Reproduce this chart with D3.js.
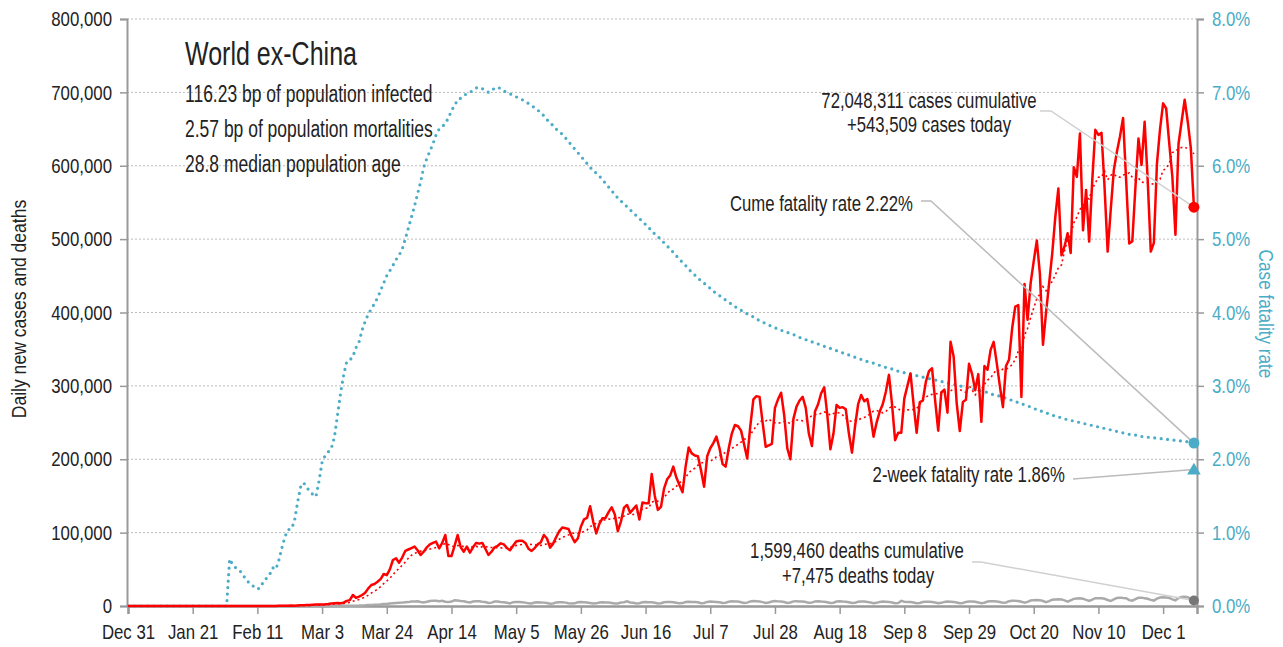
<!DOCTYPE html>
<html>
<head>
<meta charset="utf-8">
<script src="https://cdn.jsdelivr.net/npm/d3@7"></script>
<style>
  body { margin: 0; background: #fff; }
  svg text { font-family: "Liberation Sans", Arial, sans-serif; fill: #222; }
</style>
</head>
<body>
<svg width="1283" height="647"></svg>
<script>
// daily new cases, thousands, from 2019-12-31
var cases = [
  0,0,0,0,0,0,0,0,0,0,
  0,0,0,0,0,0,0,0,0,0,
  0,0.01,0.01,0.01,0.01,0.01,0.02,0.02,0.01,0.02,
  0.02,0.03,0.02,0.02,0.03,0.02,0.03,0.03,0.04,0.03,
  0.05,0.05,0.06,0.05,0.1,0.08,0.1,0.12,0.15,0.2,
  0.3,0.4,0.5,0.6,0.5,0.7,0.9,1.0,1.2,1.4,
  1.7,1.9,2.0,2.2,2.4,2.8,3.4,3.8,4.0,3.9,
  4.5,7,8,15,11,12.7,15,18,24,28.6,
  30,33,36.7,43.6,42,50,62.7,65,59,66,
  75,77,79,81,76,69.5,74,80,84,86,
  87.7,78.6,86,96.8,68,68,82,96.8,80,74,
  81,72.8,80,86,85,86,78,69.5,74,80,
  82,85.4,84,79,76,82,88,89,89,86,
  78,75,79,84,87,96.8,92,79.5,85,94,
  102,107,106,105,95,87,92,108,118,120,
  136,115,99,112,119.5,120,128,134.5,125,102,
  115,134,137.7,127,132,137,118,141,140,140,
  180,150,131,135,160,172.7,178,190,175,165,
  155,190,216,208,205,204,185,162.6,204,215,
  222,230.8,215,193.5,190,215,235,246.7,245,239,
  220,201,245,281.7,286,285,250,217,219,221,
  270,281.7,290.7,260,215,200,255,271.7,280,285,
  270,235,218,265,275,290,298,260,213.6,235,
  274,270,271,268,235,209,245,275,287.6,279,
  282,260,230.8,250,265,275,292,315,275,226,
  236,236,283,300,317,275,236,278,280,305.7,
  320,324,280,239,291,295,263.5,360,340,276,
  238.5,278,281,330,316,294,316,251,327,322,
  349,360,331,300,271,327,336,378.5,408,410,
  285,439,390,440,470,498,453,356,400,440,
  480,530,569,478,490,508,481,598,585,644,
  512,567,496.6,580,649,642,645,570,483,540,
  594,619,640,665,580,494,497,570,637,601,
  660,580,483,495,603,650,685,678,630,585,
  506,630,660,690,660,624,543.509
];

// daily new deaths, thousands
var deaths = [
  0,0,0,0,0,0,0,0,0,0,
  0,0,0,0,0,0,0,0,0,0,
  0,0,0,0,0,0,0,0,0,0,
  0,0,0,0,0,0,0,0,0,0,
  0,0,0,0,0,0,0,0,0,0,
  0,0.01,0.01,0.01,0.02,0.02,0.02,0.03,0.03,0.04,
  0.05,0.06,0.07,0.08,0.1,0.12,0.14,0.15,0.2,0.22,
  0.27,0.3,0.35,0.45,0.5,0.6,0.8,0.9,1.2,1.5,
  1.7,1.8,2.2,2.6,2.7,3.3,3.8,4.2,4.4,4.6,
  5.0,5.3,6.0,6.2,6.3,5.5,4.9,5.8,6.8,7.3,
  7.0,6.5,7.1,5.8,5.3,6.0,7.8,7.6,6.9,6.5,
  5.4,4.8,6.2,6.6,6.4,5.8,5.5,4.2,4.6,6.0,
  6.1,5.6,5.2,4.3,3.6,5.2,5.5,5.3,5.0,4.6,
  3.6,3.4,4.8,5.0,4.9,4.6,4.1,3.2,3.5,4.9,
  5.0,5.1,4.6,3.9,3.4,3.6,5.0,5.3,5.1,4.8,
  4.2,3.4,3.6,4.8,5.0,4.9,4.7,4.2,3.3,3.5,
  4.8,5.2,6.5,4.8,4.3,3.4,3.8,5.0,5.3,5.1,
  5.0,4.4,3.5,3.8,5.1,5.4,5.3,5.0,4.4,3.6,
  4.0,5.4,5.8,5.6,5.5,5.0,3.9,4.2,5.6,6.2,
  5.9,5.6,5.0,4.0,4.4,5.9,6.6,6.2,6.0,5.2,
  4.0,4.6,6.2,6.8,6.6,6.0,5.3,4.2,4.7,6.2,
  6.7,6.3,6.0,5.4,4.2,4.8,6.3,6.6,6.2,6.0,
  5.4,4.3,4.6,6.2,6.5,6.1,5.9,5.2,4.2,4.5,
  6.0,6.4,6.0,5.8,5.1,4.0,4.4,5.7,6.2,6.0,
  5.6,4.9,3.9,4.3,5.6,6.0,5.8,5.6,4.8,3.9,
  4.2,7.0,5.9,5.6,5.4,4.8,3.8,4.1,5.5,5.8,
  5.7,5.5,4.7,3.7,4.3,5.6,6.0,5.9,5.6,4.8,
  3.8,4.2,5.6,6.0,6.0,5.7,4.9,3.9,4.5,6.0,
  6.5,6.4,6.2,5.4,4.3,4.8,6.6,7.2,7.0,6.9,
  5.9,4.6,5.6,7.4,8.0,8.2,8.0,6.8,5.3,6.6,
  8.6,9.0,9.3,9.0,7.6,6.0,7.8,9.7,10.2,10.5,
  10.0,8.3,6.8,8.6,10.6,10.6,10.4,9.8,8.2,6.8,
  9.0,11.0,11.4,10.8,10.5,8.0,7.2,9.5,11.2,11.4,
  10.6,9.8,8.3,7.4,10.0,11.6,12.0,11.6,11.0,9.0,
  7.8,10.8,12.3,12.6,12.0,9.5,7.475
];

// cumulative case fatality rate, percent
var cfr = [
  0,0,0,0,0,0,0,0,0,0,
  0,0,0,0,0,0,0,0,0,0,
  0,0,0,0,0,0,0,0,0,0,
  0,0,0,0.64,0.56,0.52,0.49,0.45,0.38,0.33,
  0.29,0.26,0.23,0.25,0.34,0.38,0.43,0.52,0.5,0.63,
  0.8,0.95,1.04,1.05,1.15,1.4,1.62,1.68,1.62,1.56,
  1.52,1.49,1.7,1.96,2.05,2.1,2.15,2.3,2.6,2.9,
  3.15,3.33,3.35,3.4,3.52,3.6,3.76,3.88,3.98,4.05,
  4.12,4.2,4.3,4.4,4.5,4.57,4.64,4.72,4.78,4.86,
  5.0,5.15,5.3,5.45,5.62,5.78,5.98,6.1,6.2,6.3,
  6.42,6.5,6.53,6.58,6.65,6.75,6.82,6.9,6.92,6.96,
  6.98,7.0,7.03,7.06,7.07,7.05,7.03,7.0,7.02,7.06,
  7.07,7.05,7.02,7.0,6.98,6.96,6.94,6.92,6.9,6.87,
  6.85,6.82,6.79,6.76,6.72,6.68,6.63,6.58,6.55,6.5,
  6.46,6.43,6.38,6.33,6.28,6.23,6.18,6.13,6.08,6.03,
  5.98,5.93,5.9,5.86,5.81,5.76,5.71,5.66,5.61,5.56,
  5.52,5.48,5.44,5.4,5.36,5.32,5.28,5.24,5.2,5.16,
  5.11,5.07,5.03,5.0,4.95,4.91,4.86,4.82,4.77,4.73,
  4.68,4.64,4.59,4.55,4.51,4.47,4.43,4.4,4.36,4.33,
  4.29,4.26,4.23,4.2,4.17,4.14,4.11,4.08,4.06,4.03,
  4.01,3.98,3.96,3.94,3.91,3.89,3.87,3.85,3.83,3.81,
  3.79,3.78,3.76,3.74,3.73,3.71,3.7,3.68,3.66,3.65,
  3.63,3.62,3.6,3.59,3.57,3.56,3.54,3.53,3.51,3.5,
  3.48,3.47,3.45,3.44,3.42,3.41,3.39,3.38,3.36,3.35,
  3.33,3.32,3.31,3.29,3.28,3.27,3.25,3.24,3.23,3.21,
  3.2,3.19,3.18,3.17,3.16,3.15,3.14,3.13,3.12,3.11,
  3.1,3.09,3.08,3.07,3.06,3.05,3.04,3.03,3.02,3.01,
  3.0,2.99,2.98,2.97,2.96,2.95,2.94,2.93,2.92,2.91,
  2.89,2.88,2.87,2.86,2.85,2.83,2.82,2.8,2.79,2.77,
  2.76,2.74,2.73,2.71,2.69,2.68,2.66,2.65,2.63,2.62,
  2.6,2.59,2.58,2.56,2.55,2.54,2.53,2.52,2.51,2.5,
  2.49,2.48,2.47,2.46,2.45,2.44,2.43,2.42,2.41,2.4,
  2.39,2.38,2.37,2.36,2.35,2.34,2.34,2.33,2.32,2.31,
  2.31,2.3,2.3,2.29,2.29,2.28,2.28,2.27,2.27,2.26,
  2.26,2.25,2.25,2.24,2.24,2.23,2.22
];

var twoWeekCfr = 1.86;
var leftTicks = [0, 100, 200, 300, 400, 500, 600, 700, 800];
var rightTicks = [0, 1, 2, 3, 4, 5, 6, 7, 8];
var titleText = "World ex-China";
var statLines = ["116.23 bp of population infected", "2.57 bp of population mortalities", "28.8 median population age"];

var RED = "#ff0000", BLUE = "#4aacc6", GREY = "#aaaaaa", AXIS = "#999";

var svg = d3.select("svg");
var start = new Date(2019, 11, 31);
var days = cases.map(function(d, i) { return d3.timeDay.offset(start, i); });

// no condensed face installed, so squeeze glyphs horizontally
function squeeze(sel, f) {
  sel.each(function() {
    var w = this.getComputedTextLength();
    d3.select(this).attr("textLength", w * f).attr("lengthAdjust", "spacingAndGlyphs");
  });
}

var x = d3.scaleTime()
  .domain([start, d3.timeDay.offset(start, 347.6)])
  .range([128, 1197]);
var y = d3.scaleLinear().domain([0, 800]).range([606, 19]);
var yR = d3.scaleLinear().domain([0, 8]).range([606, 19]);

// gridlines
svg.append("g")
  .selectAll("line")
  .data(leftTicks.slice(1))
  .enter().append("line")
  .attr("x1", 127).attr("x2", 1197)
  .attr("y1", function(d) { return y(d); })
  .attr("y2", function(d) { return y(d); })
  .attr("stroke", "#bbb")
  .attr("stroke-width", 1)
  .attr("stroke-dasharray", "2,2");

// left axis
var left = svg.append("g").attr("transform", "translate(127,0)")
  .call(d3.axisLeft(y).tickValues(leftTicks).tickSize(7).tickPadding(8)
    .tickFormat(function(d) { return d3.format(",")(d * 1000); }));
left.select(".domain").attr("stroke", AXIS).attr("stroke-width", 2);
left.selectAll(".tick line").attr("stroke", AXIS).attr("stroke-width", 1.5);
left.selectAll("text").style("font-size", "21px").attr("fill", "#222").call(squeeze, 0.8);

// right axis
var right = svg.append("g").attr("transform", "translate(1197,0)")
  .call(d3.axisRight(yR).tickValues(rightTicks).tickSize(7).tickPadding(8)
    .tickFormat(function(d) { return d.toFixed(1) + "%"; }));
right.select(".domain").attr("stroke", AXIS).attr("stroke-width", 2);
right.selectAll(".tick line").attr("stroke", AXIS).attr("stroke-width", 1.5);
right.selectAll("text").style("font-size", "21px").style("fill", BLUE).call(squeeze, 0.8);

// bottom axis
var tickDates = d3.range(0, 337, 21).map(function(i) { return d3.timeDay.offset(start, i); });
var bottom = svg.append("g").attr("transform", "translate(0,606)")
  .call(d3.axisBottom(x).tickValues(tickDates).tickSize(8).tickPadding(10)
    .tickFormat(d3.timeFormat("%b %-d")));
bottom.select(".domain").attr("stroke", AXIS).attr("stroke-width", 2.5);
bottom.selectAll(".tick line").attr("stroke", AXIS).attr("stroke-width", 1.5);
bottom.selectAll("text").style("font-size", "21px").attr("fill", "#222").call(squeeze, 0.8);

// axis titles
svg.append("text")
  .attr("transform", "translate(26,309) rotate(-90)")
  .attr("text-anchor", "middle")
  .style("font-size", "19.5px")
  .text("Daily new cases and deaths")
  .call(squeeze, 0.9);
svg.append("text")
  .attr("transform", "translate(1259,314) rotate(90)")
  .attr("text-anchor", "middle")
  .style("font-size", "19.5px")
  .style("fill", BLUE)
  .text("Case fatality rate")
  .call(squeeze, 0.88);

// series
var avg = cases.map(function(d, i) { return d3.mean(cases.slice(Math.max(0, i - 6), i + 1)); });

var line = d3.line()
  .x(function(d, i) { return x(days[i]); })
  .y(function(d) { return y(d); });
var lineR = d3.line()
  .x(function(d, i) { return x(days[i]); })
  .y(function(d) { return yR(d); });

svg.append("path").datum(cfr)
  .attr("d", lineR)
  .attr("fill", "none")
  .attr("stroke", BLUE)
  .attr("stroke-width", 3.2)
  .attr("stroke-linecap", "round")
  .attr("stroke-dasharray", "0,6.5");

svg.append("path").datum(deaths)
  .attr("d", line)
  .attr("fill", "none")
  .attr("stroke", GREY)
  .attr("stroke-width", 2.5);

svg.append("path").datum(cases)
  .attr("d", line)
  .attr("fill", "none")
  .attr("stroke", RED)
  .attr("stroke-width", 2.5)
  .attr("stroke-linejoin", "round");

svg.append("path").datum(avg)
  .attr("d", line)
  .attr("fill", "none")
  .attr("stroke", RED)
  .attr("stroke-width", 1.6)
  .attr("stroke-dasharray", "2,3");

var last = cases.length - 1;
var xe = x(days[last]);

// leader lines
function leader(pts, col) {
  svg.append("polyline")
    .attr("points", pts.map(function(p) { return p.join(","); }).join(" "))
    .attr("fill", "none")
    .attr("stroke", col)
    .attr("stroke-width", 1.5);
}
leader([[1040, 111], [1051, 111], [xe, y(cases[last])]], "#d0d0d0");
leader([[921, 201], [931, 201], [xe, yR(cfr[last])]], "#bbbbbb");
leader([[1073, 479], [xe, yR(twoWeekCfr)]], "#bbbbbb");
leader([[972, 562], [981, 562], [xe, y(deaths[last])]], "#d0d0d0");

// end markers
svg.append("circle").attr("cx", xe).attr("cy", y(cases[last])).attr("r", 5.5).attr("fill", RED);
svg.append("circle").attr("cx", xe).attr("cy", yR(cfr[last])).attr("r", 5.5).attr("fill", BLUE);
svg.append("circle").attr("cx", xe).attr("cy", y(deaths[last])).attr("r", 5).attr("fill", "#777");
svg.append("path")
  .attr("d", d3.symbol().type(d3.symbolTriangle).size(80))
  .attr("transform", "translate(" + xe + "," + (yR(twoWeekCfr) + 1) + ")")
  .attr("fill", BLUE);

// title block
svg.append("text").attr("x", 185).attr("y", 65)
  .style("font-size", "32.5px").text(titleText)
  .call(squeeze, 0.77);
svg.selectAll(".stat").data(statLines).enter().append("text")
  .attr("class", "stat")
  .attr("x", 185)
  .attr("y", function(d, i) { return 102 + i * 35; })
  .style("font-size", "23px")
  .text(function(d) { return d; })
  .call(squeeze, 0.76);

// annotations
function note(xp, yp, anchor, txt) {
  svg.append("text").attr("x", xp).attr("y", yp)
    .attr("text-anchor", anchor)
    .style("font-size", "22px")
    .text(txt)
    .call(squeeze, 0.76);
}
note(929, 108, "middle", "72,048,311 cases cumulative");
note(929, 132, "middle", "+543,509 cases today");
note(913, 211, "end", "Cume fatality rate 2.22%");
note(1065, 482, "end", "2-week fatality rate 1.86%");
note(857, 558, "middle", "1,599,460 deaths cumulative");
note(858, 583, "middle", "+7,475 deaths today");
</script>
</body>
</html>
